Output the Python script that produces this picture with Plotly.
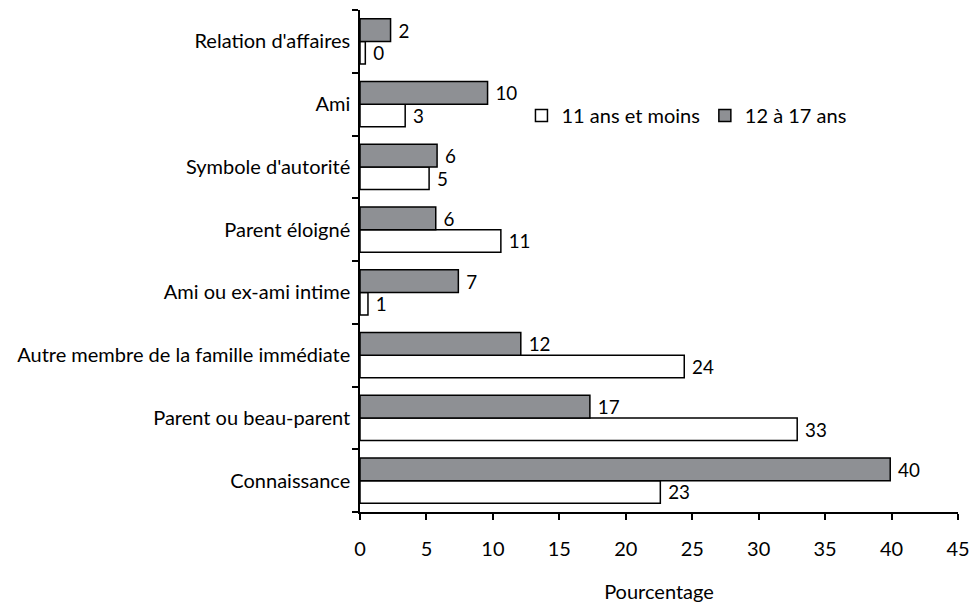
import plotly.graph_objects as go

categories = ["Connaissance", "Parent ou beau-parent", "Autre membre de la famille immédiate",
              "Ami ou ex-ami intime", "Parent éloigné", "Symbole d'autorité", "Ami",
              "Relation d'affaires"]
under_12 = [22.6, 32.9, 24.4, 0.6, 10.6, 5.2, 3.4, 0.4]
age_12_17 = [39.9, 17.3, 12.1, 7.4, 5.7, 5.8, 9.6, 2.3]
series_names = ["11 ans et moins", "12 à 17 ans"]
x_ticks = [0, 5, 10, 15, 20, 25, 30, 35, 40, 45]

FONT = "Lato"
FS = 20
fig = go.Figure()
fig.add_trace(go.Bar(
    y=categories, x=under_12, orientation="h", name=series_names[0],
    marker=dict(color="white", line=dict(color="black", width=1.5)),
    texttemplate=" %{x:.0f}", textposition="outside", cliponaxis=False,
    textfont=dict(family=FONT, size=FS, color="black"),
))
fig.add_trace(go.Bar(
    y=categories, x=age_12_17, orientation="h", name=series_names[1],
    marker=dict(color="#8e9094", line=dict(color="black", width=1.5)),
    texttemplate=" %{x:.0f}", textposition="outside", cliponaxis=False,
    textfont=dict(family=FONT, size=FS, color="black"),
))

fig.update_layout(
    width=972, height=604,
    margin=dict(l=360, r=14, t=10, b=92),
    paper_bgcolor="white", plot_bgcolor="white",
    barmode="group", bargap=0.28, bargroupgap=0,
    font=dict(family=FONT, size=FS, color="black"),
    showlegend=True,
    legend=dict(orientation="h", x=0.27, y=0.79, xanchor="left", yanchor="middle",
                font=dict(family=FONT, size=FS), traceorder="normal",
                itemwidth=30, bgcolor="rgba(0,0,0,0)"),
)
fig.update_xaxes(
    range=[0, 45], tickvals=x_ticks, ticks="outside", ticklen=6, tickwidth=1.5,
    tickcolor="black", showline=True, linecolor="black", linewidth=1.5,
    showgrid=False, zeroline=False, ticklabelstandoff=12, automargin=False,
    title=dict(text="Pourcentage", standoff=26, font=dict(family=FONT, size=FS)),
    tickfont=dict(family=FONT, size=FS),
)
fig.update_yaxes(
    categoryorder="array", categoryarray=categories, tickson="boundaries",
    ticks="outside", ticklen=6, tickwidth=1.5, tickcolor="black",
    showline=True, linecolor="black", linewidth=1.5, showgrid=False,
    tickfont=dict(family=FONT, size=FS), ticklabelstandoff=4, automargin=False,
)
fig.write_html(
    "out.html",
    config={"displayModeBar": False},
    post_script="document.body.style.margin='0';document.body.style.overflow='hidden';",
)
